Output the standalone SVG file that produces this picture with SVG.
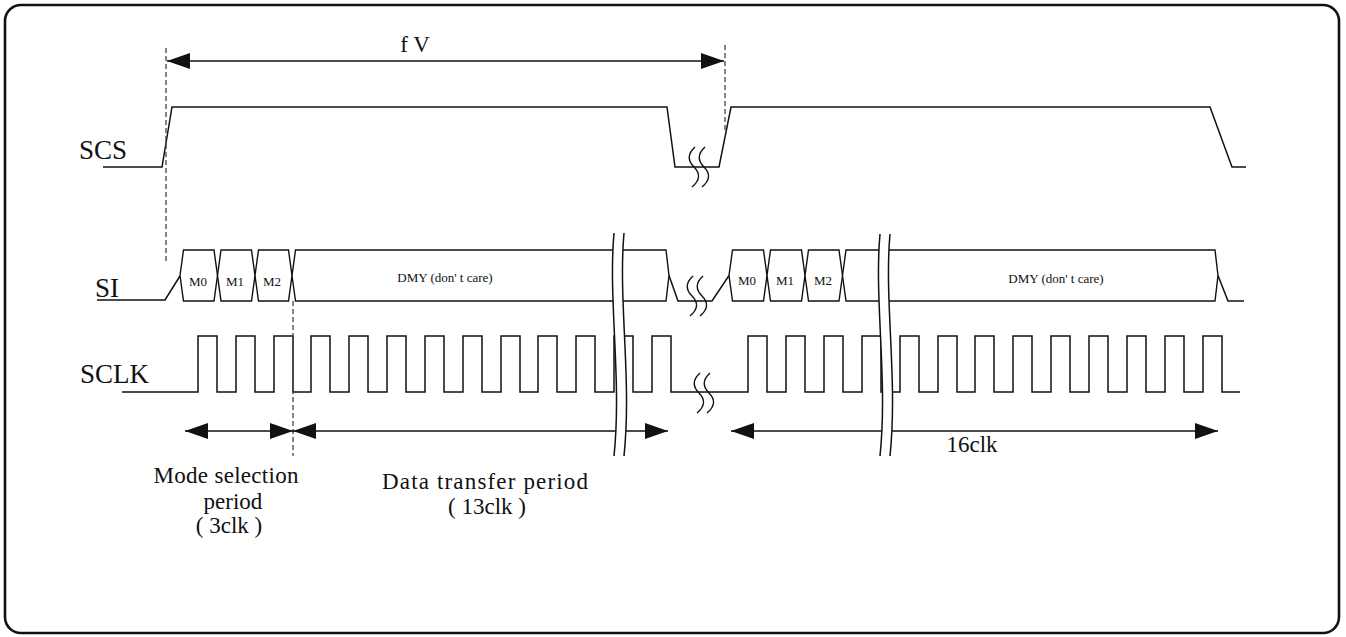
<svg xmlns="http://www.w3.org/2000/svg" width="1346" height="637" viewBox="0 0 1346 637">
<style>
.w{fill:none;stroke:#111;stroke-width:1.5;stroke-linejoin:miter}
.hx{fill:#fff;stroke:#111;stroke-width:1.4}
.ar{fill:none;stroke:#111;stroke-width:1.5;marker-start:url(#ah);marker-end:url(#ah)}
.dash{fill:none;stroke:#444;stroke-width:1.3;stroke-dasharray:5,3}
.brk{fill:none;stroke:#111;stroke-width:1.5}
.msk{fill:#fff;stroke:none}
.t{font-family:"Liberation Serif","DejaVu Serif",serif;fill:#111}
.lbl{font-size:27px}
.sm{font-size:13px;text-anchor:middle}
.md{font-size:23px;text-anchor:middle}
</style>
<defs>
<marker id="ah" viewBox="0 0 23 16" refX="23" refY="8" markerWidth="23" markerHeight="16" markerUnits="userSpaceOnUse" orient="auto-start-reverse">
<path d="M0,0 L23,8 L0,16 Z" fill="#111"/>
</marker>
<path id="sq" d="M0,0 Q-11,10 -1,20 Q9,30 -3,40" fill="none" stroke="#111" stroke-width="1.4"/>
</defs>
<rect x="5" y="5" width="1334" height="628" rx="16" fill="#fff" stroke="#111" stroke-width="2.6"/>

<g id="labels">
<text class="t lbl" x="79" y="159">SCS</text>
<text class="t lbl" x="95" y="297" font-size="32">SI</text>
<text class="t lbl" x="80" y="383">SCLK</text>
</g>

<g id="scs">
<path class="w" d="M103,167 H162 L172,107 H667 L675,167 H719 L731,107 H1210 L1232,167 H1246"/>
<use href="#sq" x="695" y="147"/>
<use href="#sq" x="705" y="147"/>
</g>

<g id="si">
<path class="w" d="M97,300 H165 L180,276"/>
<polygon class="hx" points="180,275.5 183.5,250 214,250 217.5,275.5 214,301 183.5,301"/>
<polygon class="hx" points="217.5,275.5 221,250 251.5,250 255,275.5 251.5,301 221,301"/>
<polygon class="hx" points="255,275.5 258.5,250 288.5,250 292,275.5 288.5,301 258.5,301"/>
<polygon class="hx" points="292,275.5 295.5,250 666,250 669,275.5 666,301 295.5,301"/>
<path class="w" d="M669,275.5 L678,301 H712 L729,275.5"/>
<use href="#sq" x="693" y="276"/>
<use href="#sq" x="703" y="276"/>
<polygon class="hx" points="729,275.5 732.5,250 763.5,250 767,275.5 763.5,301 732.5,301"/>
<polygon class="hx" points="767,275.5 770.5,250 801.5,250 805,275.5 801.5,301 770.5,301"/>
<polygon class="hx" points="805,275.5 808.5,250 839,250 842.5,275.5 839,301 808.5,301"/>
<polygon class="hx" points="842.5,275.5 846,250 1215,250 1218,275.5 1215,301 846,301"/>
<path class="w" d="M1218,275.5 L1228,301 H1244"/>
<text class="t sm" x="198" y="286">M0</text>
<text class="t sm" x="235" y="286">M1</text>
<text class="t sm" x="272" y="286">M2</text>
<text class="t sm" x="747" y="285">M0</text>
<text class="t sm" x="785" y="285">M1</text>
<text class="t sm" x="823" y="285">M2</text>
<text class="t sm" x="445" y="282" font-size="13.5">DMY (don' t care)</text>
<text class="t sm" x="1056" y="283" font-size="13.5">DMY (don' t care)</text>
</g>

<g id="sclk">
<path class="w" d="M122,392 H198 V336 H217 V392 H236 V336 H255 V392 H274 V336 H293 V392 H311 V336 H330 V392 H349 V336 H368 V392 H387 V336 H406 V392 H425 V336 H444 V392 H463 V336 H482 V392 H501 V336 H520 V392 H538 V336 H557 V392 H576 V336 H595 V392 H614 V336 H633 V392 H652 V336 H671 V392 H748 V336 H767 V392 H786 V336 H805 V392 H824 V336 H843 V392 H862 V336 H881 V392 H900 V336 H919 V392 H938 V336 H957 V392 H975 V336 H994 V392 H1013 V336 H1032 V392 H1051 V336 H1070 V392 H1089 V336 H1108 V392 H1127 V336 H1146 V392 H1165 V336 H1184 V392 H1203 V336 H1222 V392 H1240"/>
<use href="#sq" x="700" y="373"/>
<use href="#sq" x="710" y="373"/>
</g>

<g id="connectors">
<line class="dash" x1="166" y1="48" x2="166" y2="262"/>
<line class="dash" x1="725" y1="45" x2="725" y2="132" stroke="#777"/>
<line class="dash" x1="293" y1="301" x2="293" y2="456"/>
<line class="ar" x1="167" y1="61" x2="724" y2="61"/>
<line class="ar" x1="185" y1="431" x2="293" y2="431"/>
<line class="ar" x1="293" y1="431" x2="668" y2="431"/>
<line class="ar" x1="731" y1="431" x2="1218" y2="431"/>
</g>

<g id="breaks">
<path class="msk" d="M614,233 C608,300 622,380 614,456 L624,456 C632,380 618,300 624,233 Z"/>
<path class="brk" d="M614,233 C608,300 622,380 614,456"/>
<path class="brk" d="M624,233 C618,300 632,380 624,456"/>
<path class="msk" d="M880,234 C874,300 888,380 880,456 L890,456 C898,380 884,300 890,234 Z"/>
<path class="brk" d="M880,234 C874,300 888,380 880,456"/>
<path class="brk" d="M890,234 C884,300 898,380 890,456"/>
</g>

<g id="texts">
<text class="t md" x="415" y="52" font-size="20">f V</text>
<text class="t md" x="226" y="483" textLength="145" lengthAdjust="spacing">Mode selection</text>
<text class="t md" x="233" y="509">period</text>
<text class="t md" x="229" y="533">( 3clk )</text>
<text class="t md" x="485" y="489" font-size="24" textLength="206" lengthAdjust="spacing">Data transfer  period</text>
<text class="t md" x="487" y="514">( 13clk )</text>
<text class="t md" x="972" y="452" font-size="22.5">16clk</text>
</g>
</svg>
